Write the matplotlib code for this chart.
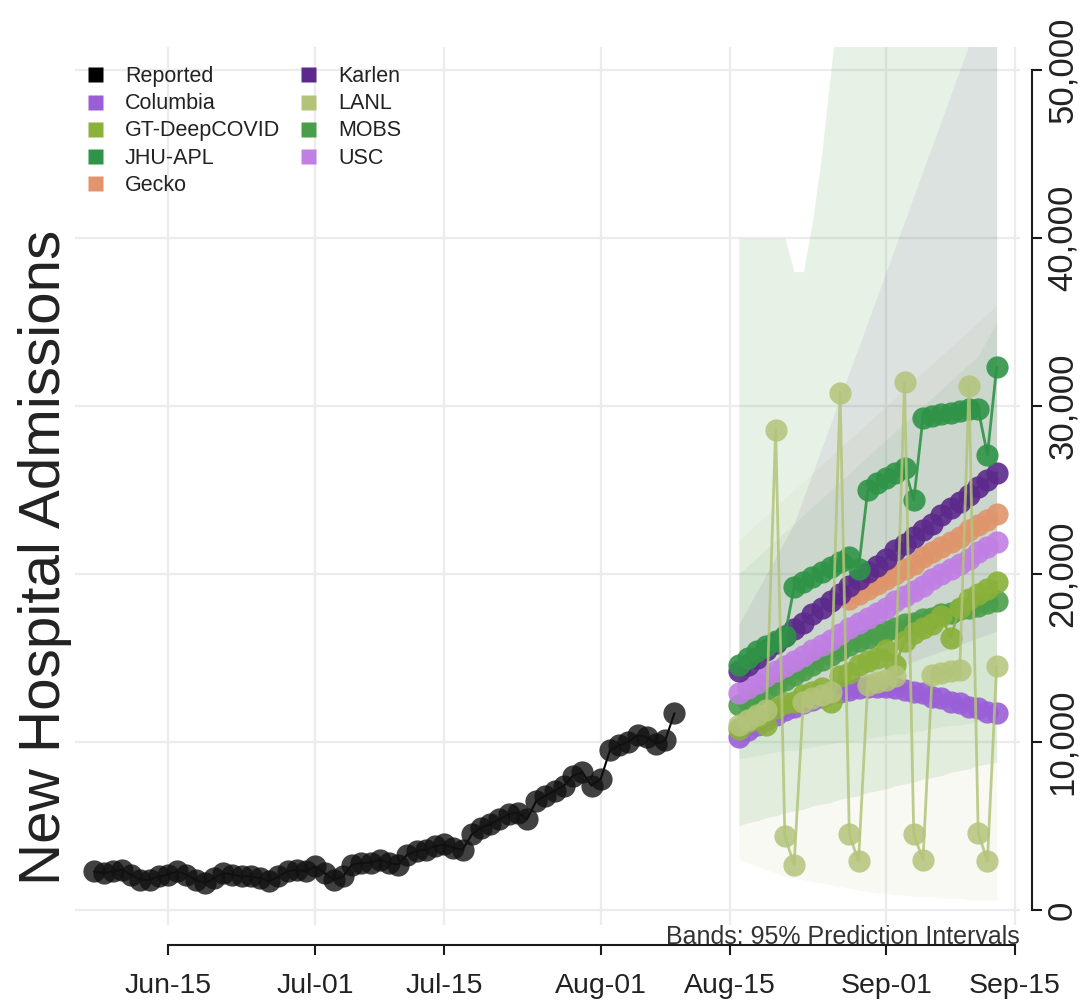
import matplotlib
matplotlib.use("Agg")
import matplotlib.pyplot as plt
import matplotlib.dates as mdates
import numpy as np
import pandas as pd
from matplotlib.lines import Line2D

plt.rcParams['font.family'] = ['Liberation Sans', 'DejaVu Sans']

# ---------------- data (thousands of admissions) ----------------
reported_start, reported_end = "2021-06-07", "2021-08-09"
reported = [2.3, 2.2, 2.3, 2.4, 2.1, 1.8, 1.8, 2.0, 2.1, 2.3, 2.1, 1.8, 1.6, 1.9,
            2.2, 2.1, 2.0, 2.0, 1.9, 1.7, 2.0, 2.3, 2.4, 2.3,
            2.6, 2.2, 1.8, 2.0, 2.7, 2.8, 2.8, 3.0, 2.8, 2.7, 3.3, 3.5, 3.6, 3.8,
            3.9, 3.7, 3.6, 4.5, 4.9, 5.1, 5.4, 5.7, 5.8, 5.4, 6.5, 6.8, 7.1, 7.4,
            8.0, 8.2, 7.4,
            7.8, 9.5, 9.8, 10.0, 10.4, 10.3, 9.9, 10.1, 11.7]

fc_start, fc_end = "2021-08-16", "2021-09-13"
columbia = [10.3, 10.7, 11.0, 11.3, 11.6, 11.9, 12.1, 12.3, 12.5, 12.7, 12.9, 13.0, 13.1, 13.2,
            13.3, 13.3, 13.3, 13.2, 13.1, 13.0, 12.9, 12.7, 12.6, 12.4, 12.3, 12.1, 12.0, 11.8, 11.7]
gt_deepcovid = [10.8, 11.2, 11.5, 11.0, 12.0, 12.3, 12.4, 12.8, 13.0, 13.2, 12.4, 13.9, 14.1, 14.6,
                14.8, 15.0, 15.5, 14.6, 16.0, 16.5, 16.8, 17.0, 17.5, 16.2, 18.0, 18.5, 18.8, 19.1, 19.5]
jhu_apl = [14.6, 15.0, 15.4, 15.7, 16.0, 16.3, 19.2, 19.5, 19.8, 20.1, 20.4, 20.7, 21.0, 20.3,
           25.0, 25.4, 25.7, 26.0, 26.3, 24.4, 29.3, 29.4, 29.5, 29.6, 29.7, 29.8, 29.8, 27.1, 32.3]
gecko = [np.nan] * 12 + [18.5, 18.8, 19.1, 19.4, 19.7, 20.0, 20.3, 20.6, 21.0, 21.3, 21.6, 21.9,
                         22.2, 22.6, 22.9, 23.2, 23.6]
karlen = [14.2, 14.6, 15.0, 15.5, 15.9, 16.3, 16.7, 17.1, 17.6, 18.0, 18.4, 18.8, 19.3, 19.7,
          20.1, 20.5, 20.9, 21.4, 21.8, 22.2, 22.6, 23.0, 23.5, 23.9, 24.3, 24.7, 25.2, 25.6, 26.0]
lanl = [11.0, 11.3, 11.6, 11.9, 28.6, 4.4, 2.7, 12.4, 12.6, 12.8, 13.0, 30.8, 4.5, 2.9,
        13.4, 13.6, 13.7, 13.9, 31.4, 4.5, 3.0, 14.0, 14.1, 14.2, 14.3, 31.2, 4.6, 2.9, 14.5]
mobs = [12.2, 12.5, 12.8, 13.1, 13.4, 13.7, 14.0, 14.3, 14.6, 14.9, 15.2, 15.5, 15.8, 16.0,
        16.2, 16.4, 16.6, 16.8, 17.0, 17.1, 17.3, 17.4, 17.6, 17.7, 17.9, 18.0, 18.1, 18.3, 18.4]
usc = [12.9, 13.2, 13.5, 13.9, 14.2, 14.5, 14.8, 15.1, 15.5, 15.8, 16.1, 16.4, 16.8, 17.1,
       17.4, 17.7, 18.0, 18.4, 18.7, 19.0, 19.3, 19.7, 20.0, 20.3, 20.6, 20.9, 21.3, 21.6, 21.9]

# 95% prediction interval bands (lower, upper)
mobs_lo = [5.0, 5.2, 5.3, 5.5, 5.6, 5.8, 5.9, 6.0, 6.2, 6.3, 6.4, 6.6, 6.7, 6.8, 7.0, 7.1, 7.2,
           7.4, 7.5, 7.6, 7.8, 7.9, 8.0, 8.2, 8.3, 8.4, 8.6, 8.7, 8.8]
mobs_hi = [40, 40, 40, 40, 40, 40, 38, 38, 41, 45, 50, 55, 60, 60, 60, 60, 60, 60, 60, 60, 60,
           60, 60, 60, 60, 60, 60, 60, 60]
karlen_lo = [11.0, 11.2, 11.4, 11.6, 11.8, 12.0, 12.2, 12.4, 12.6, 12.8, 13.0, 13.2, 13.4, 13.6,
             13.8, 14.0, 14.2, 14.4, 14.6, 14.8, 15.0, 15.2, 15.4, 15.6, 15.8, 16.0, 16.2, 16.4, 16.6]
karlen_hi = [17, 18, 19, 20, 21, 22, 23, 24.5, 26, 27.5, 29, 30.5, 32, 33.5, 35, 36.5, 38, 39.5,
             41, 42.5, 44, 45.5, 47, 48.5, 50, 51.5, 53, 54.5, 56]
jhu_lo = [9.0, 9.1, 9.2, 9.3, 9.4, 9.5, 9.5, 9.6, 9.7, 9.8, 9.9, 10.0, 10.0, 10.1, 10.2, 10.3,
          10.4, 10.5, 10.5, 10.6, 10.7, 10.8, 10.9, 11.0, 11.0, 11.1, 11.2, 11.3, 11.4]
jhu_hi = [20, 20.5, 21, 21.5, 22, 22.5, 23, 23.5, 24, 24.5, 25, 25.5, 26, 26.5, 27, 27.5, 28,
          28.5, 29, 29.5, 30, 30.5, 31, 31.5, 32, 32.5, 33, 34, 35]
lanl_lo = [3.0, 2.8, 2.6, 2.4, 2.2, 2.0, 1.9, 1.8, 1.7, 1.6, 1.5, 1.4, 1.3, 1.2, 1.1, 1.0, 1.0,
           0.9, 0.9, 0.8, 0.8, 0.8, 0.7, 0.7, 0.7, 0.6, 0.6, 0.6, 0.6]
lanl_hi = [22, 22.5, 23, 23.5, 24, 24.5, 25, 25.5, 26, 26.5, 27, 27.5, 28, 28.5, 29, 29.5, 30,
           30.5, 31, 31.5, 32, 32.5, 33, 33.5, 34, 34.5, 35, 35.5, 36]

legend_labels = ["Reported", "Columbia", "GT-DeepCOVID", "JHU-APL", "Gecko",
                 "Karlen", "LANL", "MOBS", "USC"]
colors = {"Reported": "#000000", "Columbia": "#9a5fd8", "GT-DeepCOVID": "#8ab13a",
          "JHU-APL": "#2f9447", "Gecko": "#e0956c", "Karlen": "#5c2a8c",
          "LANL": "#b3c47a", "MOBS": "#4a9e4a", "USC": "#c07fe3"}
date_ticks = ["2021-06-15", "2021-07-01", "2021-07-15", "2021-08-01", "2021-08-15",
              "2021-09-01", "2021-09-15"]
date_tick_labels = ["Jun-15", "Jul-01", "Jul-15", "Aug-01", "Aug-15", "Sep-01", "Sep-15"]
y_ticks = [0, 10000, 20000, 30000, 40000, 50000]
y_tick_labels = ["0", "10,000", "20,000", "30,000", "40,000", "50,000"]

# ---------------- figure ----------------
W, H = 1086, 1005
fig = plt.figure(figsize=(W / 100, H / 100), dpi=100)
L, R, T, B = 75, 1020, 47, 925
ax = fig.add_axes([L / W, 1 - B / H, (R - L) / W, (B - T) / H])

rdates = pd.date_range(reported_start, reported_end)
fdates = pd.date_range(fc_start, fc_end)
k = lambda v: np.asarray(v, dtype=float) * 1000
xticks_num = [mdates.date2num(pd.Timestamp(d)) for d in date_ticks]

# light grid
for yv in y_ticks:
    ax.axhline(yv, color='#ececec', lw=1.6, zorder=0)
for xv in xticks_num:
    ax.axvline(xv, color='#ececec', lw=1.6, zorder=0)

# bands
bands = [("MOBS", mobs_lo, mobs_hi, 0.13), ("LANL", lanl_lo, lanl_hi, 0.09),
         ("JHU-APL", jhu_lo, jhu_hi, 0.07), ("Karlen", karlen_lo, karlen_hi, 0.08)]
for name, lo, hi, a in bands:
    ax.fill_between(fdates, k(lo), k(hi), color=colors[name], alpha=a, lw=0, zorder=1)

ms = 16
def series(name, vals, z, alpha=0.9, lw=2.0):
    ax.plot(fdates, k(vals), color=colors[name], lw=lw, marker='o', ms=ms,
            mec='none', alpha=alpha, zorder=z)

series("Columbia", columbia, 3)
series("MOBS", mobs, 4)
series("GT-DeepCOVID", gt_deepcovid, 5)
series("USC", usc, 6)
series("Gecko", gecko, 7)
series("Karlen", karlen, 8)
series("JHU-APL", jhu_apl, 9)
series("LANL", lanl, 10, alpha=0.85, lw=2.0)

ax.plot(rdates, k(reported), color='black', lw=1.5, zorder=11)
ax.plot(rdates, k(reported), ls='none', marker='o', ms=ms, mfc='#111111', mec='none',
        alpha=0.8, zorder=12)

# axes limits (Jun-15 at px 168, 9.207 px/day)
x0 = mdates.date2num(pd.Timestamp("2021-06-15"))
ppd = 9.207
ax.set_xlim(x0 - (168 - L) / ppd, x0 + (R - 168) / ppd)
ax.set_ylim(-(B - 910) / 16.8 * 1000, (910 - T) / 16.8 * 1000)

ax.yaxis.set_ticks_position('right')
ax.set_xticks(xticks_num)
ax.set_xticklabels(date_tick_labels)
ax.set_yticks(y_ticks)
ax.set_yticklabels(y_tick_labels)
ax.minorticks_off()

for s in ['top', 'left']:
    ax.spines[s].set_visible(False)
ax.spines['bottom'].set_position(('outward', 14.4))
ax.spines['right'].set_position(('outward', 8.6))
ax.spines['bottom'].set_bounds(xticks_num[0], xticks_num[-1])
ax.spines['right'].set_bounds(0, 50000)
for s in ['bottom', 'right']:
    ax.spines[s].set_linewidth(1.5)
    ax.spines[s].set_color('#1a1a1a')
ax.tick_params(axis='x', which='both', direction='out', length=7.2, width=1.5,
               color='#1a1a1a', labelsize=20.5, pad=13, labelcolor='#222222',
               top=False)
ax.tick_params(axis='y', which='both', direction='out', length=7.2, width=1.5,
               color='#1a1a1a', labelsize=25, pad=3, labelcolor='#222222', right=True,
               left=False, labelright=True, labelleft=False)
for t in ax.yaxis.get_major_ticks():
    t.label2.set_rotation(90)
    t.label2.set_va('center')
    t.label2.set_ha('left')
ax.patch.set_alpha(0)

fig.text(45 / W, 1 - 557 / H, "New Hospital Admissions", rotation=90, fontsize=42,
         ha='center', va='center', color='#222222')
fig.text(1020 / W, 1 - 944 / H, "Bands: 95% Prediction Intervals", fontsize=18,
         ha='right', va='baseline', color='#333333')

handles = [Line2D([], [], ls='none', marker='s', ms=10.8, mec='none', color=colors[n])
           for n in legend_labels]
fig.legend(handles, legend_labels, loc='upper left', bbox_to_anchor=(84 / W, 1 - 66 / H),
           ncol=2, frameon=False, fontsize=15.5, handlelength=1.0, handletextpad=0.9,
           columnspacing=0.8, labelspacing=0.29, borderpad=0, borderaxespad=0,
           labelcolor='#222222')

fig.savefig("out.png", dpi=100)
